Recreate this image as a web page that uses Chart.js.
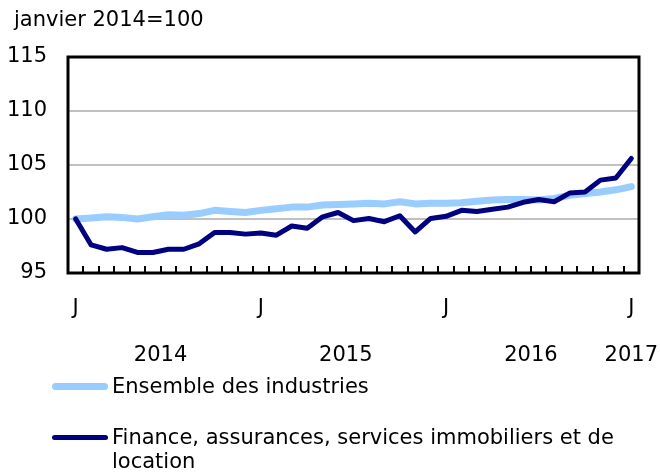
<!DOCTYPE html>
<html>
<head>
<meta charset="utf-8">
<script src="https://cdn.jsdelivr.net/npm/chart.js@4/dist/chart.umd.min.js"></script>
<style>
    body { margin: 0; background: #fff; font-family: "DejaVu Sans", Verdana, sans-serif; }
    #wrap { position: relative; width: 660px; height: 476px; }
    .legend-item { position: absolute; left: 52px; font-size: 21px; line-height: 24px; color: #000; }
    .legend-line { position: absolute; left: 0; width: 56px; border-radius: 4px; }
    .legend-text { position: absolute; left: 60px; width: 545px; }
</style>
</head>
<body>
<div id="wrap">
    <canvas id="index-chart" width="660" height="476"></canvas>
    <div class="legend-item" style="top: 374px;">
        <span class="legend-line" style="top: 9px; height: 7px; background: #99ccff;"></span>
        <span class="legend-text">Ensemble des industries</span>
    </div>
    <div class="legend-item" style="top: 425px;">
        <span class="legend-line" style="top: 10px; height: 5px; background: #000080;"></span>
        <span class="legend-text">Finance, assurances, services immobiliers et de location</span>
    </div>
</div>
<script>
var ctx = document.getElementById("index-chart").getContext("2d");

// janvier 2014 a janvier 2017, mensuel
var months = [];
for (let y = 2014; y <= 2016; y++) {
    for (let m = 1; m <= 12; m++) {
        months.push(y + "-" + (m < 10 ? "0" + m : m));
    }
}
months.push("2017-01");

var series = {
    "Ensemble des industries": [
        100.0, 100.1, 100.2, 100.15, 100.0, 100.2, 100.4, 100.35, 100.5, 100.8, 100.7, 100.6,
        100.8, 100.95, 101.1, 101.1, 101.3, 101.35, 101.4, 101.45, 101.4, 101.6, 101.4, 101.45,
        101.45, 101.5, 101.65, 101.75, 101.8, 101.8, 101.75, 101.9, 102.2, 102.35, 102.5, 102.7,
        103.0
    ],
    "Finance, assurances, services immobiliers et de location": [
        100.0, 97.6, 97.2, 97.35, 96.9, 96.9, 97.2, 97.2, 97.7, 98.75, 98.75, 98.6,
        98.7, 98.5, 99.35, 99.15, 100.2, 100.6, 99.85, 100.05, 99.75, 100.3, 98.8, 100.05,
        100.25, 100.8, 100.7, 100.9, 101.1, 101.55, 101.8, 101.6, 102.4, 102.5, 103.6, 103.8,
        105.6
    ]
}

var font_family = "'DejaVu Sans', Verdana, sans-serif";

var decorations = {
    id: "decorations",
    afterDraw: function (chart) {
        let c = chart.ctx;
        let area = chart.chartArea;
        let x = chart.scales.x;
        let half = (x.getPixelForValue(1) - x.getPixelForValue(0)) / 2;
        c.save();
        // petites graduations vers l'interieur
        c.strokeStyle = "#000";
        c.lineWidth = 2;
        for (let i = 0; i < months.length - 1; i++) {
            let px = Math.round(x.getPixelForValue(i) + half);
            c.beginPath();
            c.moveTo(px, area.bottom);
            c.lineTo(px, area.bottom - 7);
            c.stroke();
        }
        // cadre
        c.lineWidth = 3;
        c.strokeRect(area.left, area.top, area.right - area.left, area.bottom - area.top);
        // annees
        c.fillStyle = "#000";
        c.font = "21px " + font_family;
        c.textAlign = "center";
        c.textBaseline = "alphabetic";
        let years = ["2014", "2015", "2016"];
        for (let i = 0; i < years.length; i++) {
            let mid = (x.getPixelForValue(i * 12) + x.getPixelForValue(i * 12 + 11)) / 2;
            c.fillText(years[i], mid, 361);
        }
        c.fillText("2017", x.getPixelForValue(36), 361);
        // unite
        c.textAlign = "left";
        c.fillText("janvier 2014=100", 14, 26);
        c.restore();
    }
};

var names = Object.keys(series);

var chart = new Chart(ctx, {
    type: "line",
    data: {
        labels: months,
        datasets: [
            {
                label: names[0],
                data: series[names[0]],
                borderColor: "#99ccff",
                borderWidth: 7,
                pointRadius: 0,
                borderJoinStyle: "round",
                borderCapStyle: "round",
                order: 1,
            },
            {
                label: names[1],
                data: series[names[1]],
                borderColor: "#000080",
                borderWidth: 5,
                pointRadius: 0,
                borderJoinStyle: "round",
                borderCapStyle: "round",
                order: 0,
            },
        ]
    },
    options: {
        responsive: false,
        animation: false,
        layout: { padding: { top: 57, right: 21, left: 0, bottom: 0 } },
        plugins: {
            legend: { display: false },
            tooltip: { enabled: false },
        },
        scales: {
            x: {
                offset: true,
                grid: { display: false, drawTicks: false },
                border: { display: false },
                ticks: {
                    autoSkip: false,
                    maxRotation: 0,
                    padding: 23,
                    color: "#000",
                    font: { family: font_family, size: 21 },
                    callback: function (value, index) {
                        return index % 12 == 0 ? "J" : "";
                    }
                },
                afterFit: function (scale) { scale.height = 203; }
            },
            y: {
                min: 95,
                max: 115,
                ticks: {
                    stepSize: 5,
                    padding: 21,
                    color: "#000",
                    font: { family: font_family, size: 21 },
                },
                grid: { color: "#c0c0c0", lineWidth: 2, drawTicks: false },
                border: { display: false },
                afterFit: function (scale) { scale.width = 68; }
            }
        }
    },
    plugins: [decorations]
});
</script>
</body>
</html>
